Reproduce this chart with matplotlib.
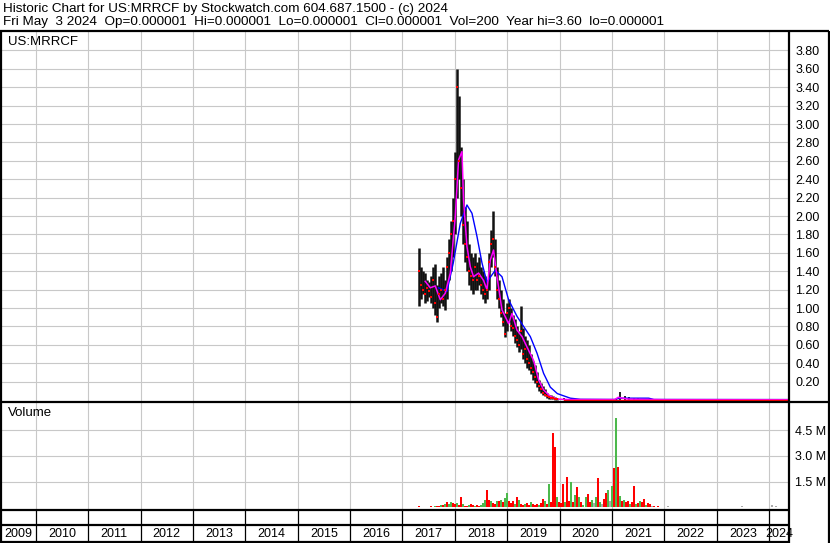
import numpy as np
import pandas as pd
import matplotlib
matplotlib.use("Agg")
import matplotlib.pyplot as plt
from matplotlib.lines import Line2D

plt.rcParams['font.family'] = ['Liberation Sans', 'DejaVu Sans']

# ---- price data: bi-weekly bars 2017-04-24 .. 2019-12-30 ----
bar_start = "2017-04-24"
price_hi = [1.65, 1.45, 1.40, 1.38, 1.30, 1.28, 1.35, 1.45, 1.48, 1.25,
            1.35, 1.38, 1.45, 1.30, 1.55, 1.75, 1.95, 2.20, 2.70, 3.60,
            3.30, 2.75, 2.40, 2.10, 1.95, 1.70, 1.60, 1.55, 1.60, 1.50,
            1.55, 1.45, 1.40, 1.35, 1.30, 1.60, 1.85, 2.05, 1.75, 1.45,
            1.30, 1.20, 1.10, 0.95, 1.05, 1.10, 1.00, 0.92, 0.88, 0.80,
            0.75, 1.02, 0.78, 0.70, 0.65, 0.60, 0.50, 0.42, 0.38, 0.30,
            0.22, 0.18, 0.15, 0.12, 0.08, 0.06, 0.05, 0.04, 0.03, 0.02]
price_lo = [1.02, 1.10, 1.15, 1.05, 1.08, 1.12, 1.05, 1.00, 0.92, 0.85,
            1.00, 1.05, 1.02, 0.98, 1.10, 1.30, 1.40, 1.55, 1.80, 2.20,
            2.40, 2.00, 1.70, 1.50, 1.40, 1.25, 1.20, 1.15, 1.20, 1.20,
            1.25, 1.15, 1.10, 1.05, 1.10, 1.20, 1.45, 1.55, 1.35, 1.10,
            1.00, 0.90, 0.80, 0.68, 0.75, 0.85, 0.75, 0.70, 0.62, 0.58,
            0.52, 0.55, 0.45, 0.40, 0.35, 0.33, 0.28, 0.22, 0.18, 0.14,
            0.10, 0.08, 0.05, 0.04, 0.02, 0.01, 0.01, 0.01, 0.005, 0.002]
price_cl = [1.40, 1.25, 1.20, 1.15, 1.22, 1.18, 1.12, 1.30, 1.05, 0.90,
            1.15, 1.20, 1.10, 1.20, 1.45, 1.60, 1.80, 1.95, 2.40, 3.40,
            2.60, 2.30, 1.90, 1.70, 1.55, 1.40, 1.35, 1.30, 1.45, 1.30,
            1.35, 1.25, 1.20, 1.15, 1.20, 1.50, 1.70, 1.75, 1.45, 1.20,
            1.10, 0.95, 0.85, 0.72, 0.95, 1.00, 0.80, 0.78, 0.70, 0.65,
            0.60, 0.75, 0.50, 0.55, 0.45, 0.40, 0.35, 0.30, 0.25, 0.20,
            0.15, 0.12, 0.08, 0.06, 0.04, 0.03, 0.02, 0.02, 0.01, 0.01]

# monthly bars after 2020 (near zero)
tail_start = "2020-01-31"
tail_hi = [0.02, 0.01, 0.01, 0.01, 0.01, 0.01, 0.01, 0.01, 0.01, 0.01,
           0.01, 0.01, 0.01, 0.09, 0.04, 0.03, 0.02, 0.02, 0.01, 0.01,
           0.01, 0.01, 0.01, 0.01, 0.01, 0.01, 0.01, 0.01, 0.01, 0.01,
           0.01, 0.01, 0.01, 0.01, 0.01, 0.01, 0.01, 0.01, 0.01, 0.01,
           0.01, 0.01, 0.01, 0.01, 0.01, 0.01, 0.01, 0.01, 0.01, 0.01,
           0.01, 0.01]

# moving averages (decimal year, value)
ma_short_t = [2017.435, 2017.531, 2017.626, 2017.722, 2017.817, 2017.913, 2018.008,
              2018.071, 2018.136, 2018.167, 2018.231, 2018.294, 2018.357, 2018.453,
              2018.548, 2018.613, 2018.676, 2018.739, 2018.804, 2018.900, 2019.026,
              2019.091, 2019.186, 2019.282, 2019.408, 2019.503, 2019.599, 2019.694,
              2019.822, 2019.956, 2020.204, 2021.050, 2021.120, 2021.300, 2022.000,
              2024.369]
ma_short_v = [1.29, 1.22, 1.24, 1.09, 1.16, 1.38, 1.99,
              2.61, 2.70, 2.17, 1.67, 1.45, 1.34, 1.38,
              1.30, 1.20, 1.52, 1.63, 1.34, 0.98, 0.83,
              0.94, 0.76, 0.69, 0.54, 0.43, 0.22, 0.11,
              0.04, 0.01, 0.005, 0.005, 0.03, 0.01, 0.004,
              0.003]
ma_long_t = [2017.687, 2017.849, 2017.970, 2018.104, 2018.231, 2018.327, 2018.422,
             2018.518, 2018.613, 2018.696, 2018.772, 2018.900, 2019.026, 2019.186,
             2019.312, 2019.440, 2019.568, 2019.694, 2019.822, 2019.956, 2020.204,
             2020.395, 2021.050, 2021.150, 2021.700, 2021.800, 2024.369]
ma_long_v = [1.22, 1.18, 1.49, 1.92, 2.12, 2.03, 1.78,
             1.49, 1.28, 1.35, 1.41, 1.34, 1.09, 0.91,
             0.80, 0.69, 0.51, 0.29, 0.14, 0.07, 0.02,
             0.008, 0.006, 0.02, 0.02, 0.006, 0.005]

# ---- volume (millions), bi-weekly from 2017-04-24 ----
vol = [0.06, 0.04, 0.05, 0.03, 0.05, 0.04, 0.06, 0.05, 0.08, 0.06,
       0.10, 0.15, 0.12, 0.22, 0.30, 0.20, 0.32, 0.25, 0.18, 0.25,
       0.15, 0.58, 0.20, 0.10, 0.08, 0.12, 0.20, 0.15, 0.10, 0.12,
       0.08, 0.15, 0.25, 0.45, 1.00, 0.45, 0.35, 0.25, 0.20, 0.35,
       0.40, 0.45, 0.30, 0.55, 0.85, 0.35, 0.25, 0.40, 0.20, 0.60,
       0.45, 0.22, 0.15, 0.20, 0.25, 0.15, 0.30, 0.18, 0.12, 0.20,
       0.15, 0.25, 0.50, 0.40, 0.20, 1.35, 0.30, 4.34, 3.53, 0.60,
       0.30, 0.25, 1.35, 0.30, 1.74, 0.40, 1.50, 0.30, 0.75, 1.20,
       0.60, 0.30, 0.15, 0.58, 0.80, 0.30, 0.45, 0.25, 0.60, 1.70,
       0.30, 0.20, 0.50, 0.83, 1.00, 0.40, 1.27, 2.28, 5.21, 2.37,
       0.64, 0.35, 0.45, 0.30, 0.40, 0.20, 0.30, 1.22, 0.20, 0.25,
       0.39, 0.30, 0.50, 0.15, 0.25, 0.18, 0.10, 0.08, 0.05, 0.06,
       0.04, 0.03, 0.05, 0.02, 0.06, 0.03, 0.04, 0.02, 0.03, 0.05,
       0.02, 0.03, 0.04, 0.02, 0.03, 0.02, 0.04, 0.03, 0.02, 0.05,
       0.03, 0.02, 0.03, 0.04, 0.02, 0.03, 0.02, 0.03, 0.02, 0.04,
       0.03, 0.02, 0.05, 0.02, 0.03, 0.02, 0.03, 0.04, 0.02, 0.03,
       0.02, 0.06, 0.03, 0.02, 0.03, 0.02, 0.04, 0.03, 0.02, 0.03,
       0.02, 0.03, 0.04, 0.02, 0.03, 0.02, 0.12, 0.05, 0.10, 0.04,
       0.03, 0.02, 0.03]
vol_dir = list("rrgrrgrrgr" "rgrgrggrrg" "rrgrrgrrgr" "rggg" "rrgrrgrgrg"
               "gr" "rrgrgrrgrr" "grrrgrrgrg" "rrrgrrr" "grrgrgrgrgg"
               "rrgkgrgkrr" "gkgrgrgrgr" "rgrrgrgrrg" "rrkrgrgrkr"
               "kkrkgkkrkk" "gkkrkkkrkk" "kkgkkkkrkk" "kkkkkkkkkk"
               "kkkkkkkkkk" "kkkkkkkkkk" "kkk")

year_first, year_last = 2009, 2024
price_ticks = [0.2, 0.4, 0.6, 0.8, 1.0, 1.2, 1.4, 1.6, 1.8, 2.0,
               2.2, 2.4, 2.6, 2.8, 3.0, 3.2, 3.4, 3.6, 3.8]
vol_ticks = [1.5, 3.0, 4.5]

header1 = "Historic Chart for US:MRRCF by Stockwatch.com 604.687.1500 - (c) 2024"
header2 = ("Fri May  3 2024  Op=0.000001  Hi=0.000001  Lo=0.000001  "
           "Cl=0.000001  Vol=200  Year hi=3.60  lo=0.000001")


def dec_year(dates):
    d = pd.DatetimeIndex(dates)
    return (d.year + (d.dayofyear - 0.5) / 365.25).to_numpy()


W, H = 830, 543
fig = plt.figure(figsize=(W / 100, H / 100), dpi=100)


def ax_px(x0, y0, x1, y1):
    return fig.add_axes([x0 / W, 1 - y1 / H, (x1 - x0) / W, (y1 - y0) / H])


def fline(xs, ys, lw=1.5):
    fig.add_artist(Line2D([x / W for x in xs], [1 - y / H for y in ys],
                          transform=fig.transFigure, color="black", lw=lw,
                          solid_capstyle="butt"))


xlim = (2009.337, 2024.369)
grid_c = "#c8c8c8"

ax_p = ax_px(1, 32, 788.5, 401.5)
ax_v = ax_px(1, 402.5, 788.5, 510)
ax_x = ax_px(1, 510, 788.5, 541.5)

for ax in (ax_p, ax_v, ax_x):
    ax.set_xlim(*xlim)
    for s in ax.spines.values():
        s.set_visible(False)
    ax.set_axisbelow(True)
    ax.tick_params(axis="x", which="both", length=0, labelbottom=False)

years = np.arange(year_first + 1, year_last + 1)

# price panel
ax_p.set_ylim(-0.016, 4.0)
ax_p.set_xticks(years)
ax_p.set_yticks(price_ticks)
ax_p.set_yticklabels([f"{t:.2f}" for t in price_ticks])
ax_p.yaxis.tick_right()
ax_p.tick_params(axis="y", length=0, pad=5, labelsize=9, colors="black")
ax_p.grid(True, color=grid_c, lw=0.8)

bx = dec_year(pd.date_range(bar_start, periods=len(price_hi), freq="14D"))
ax_p.vlines(bx, price_lo, price_hi, color="#111111", lw=1.8, zorder=3)
tx = dec_year(pd.date_range(tail_start, periods=len(tail_hi), freq="ME"))
ax_p.vlines(tx, 0, tail_hi, color="#111111", lw=1.3, zorder=3)
ax_p.plot(ma_long_t, ma_long_v, color="#0000ff", lw=1.0, zorder=4)
ax_p.plot(ma_short_t, ma_short_v, color="#ff00ff", lw=1.1, zorder=5)
ax_p.plot(bx, price_cl, ls="none", marker="s", ms=1.8, mew=0,
          color="#ff0000", zorder=6)
ax_p.plot([tx[0], xlim[1]], [0.0, 0.0], color="#ff0000", lw=1.0, zorder=6)

# volume panel
ax_v.set_ylim(-0.15, 6.1)
ax_v.set_xticks(years)
ax_v.set_yticks(vol_ticks)
ax_v.set_yticklabels([f"{t:.1f} M" for t in vol_ticks])
ax_v.yaxis.tick_right()
ax_v.tick_params(axis="y", length=0, pad=5, labelsize=9, colors="black")
ax_v.grid(True, color=grid_c, lw=0.8)
vx = dec_year(pd.date_range(bar_start, periods=len(vol), freq="14D"))
cmap = {"r": "#ff0000", "g": "#4cb84c", "k": "#aaaaaa"}
vcols = [cmap[c] for c in vol_dir[:len(vol)]]
ax_v.vlines(vx, 0, vol, colors=vcols, lw=1.45, zorder=3)

# year strip
ax_x.set_ylim(0, 1)
ax_x.set_yticks([])
ax_x.vlines(years, 0, 1, color="black", lw=0.9)
for y in range(year_first, year_last + 1):
    a, b = max(y, xlim[0]), min(y + 1, xlim[1])
    ax_x.text((a + b) / 2, 0.24, str(y), ha="center", va="center",
              fontsize=9, color="black")

# frame lines
fline([0, 829], [31, 31], 1.6)
fline([1, 1], [31, 543], 1.6)
fline([828.5, 828.5], [31, 543], 1.6)
fline([789, 789], [31, 543], 1.6)
fline([0, 829], [401.5, 401.5], 1.6)
fline([0, 789], [510, 510], 1.6)
fline([0, 789], [524.5, 524.5], 1.6)
fline([0, 789], [541.5, 541.5], 1.6)

fig.text(3 / W, 1 - 9 / H, header1, ha="left", va="center", fontsize=9.7)
fig.text(3 / W, 1 - 22.5 / H, header2, ha="left", va="center", fontsize=9.7)
fig.text(8 / W, 1 - 42 / H, "US:MRRCF", ha="left", va="center", fontsize=9.5)
fig.text(8 / W, 1 - 413 / H, "Volume", ha="left", va="center", fontsize=9.5)

fig.savefig("out.png", dpi=100)
